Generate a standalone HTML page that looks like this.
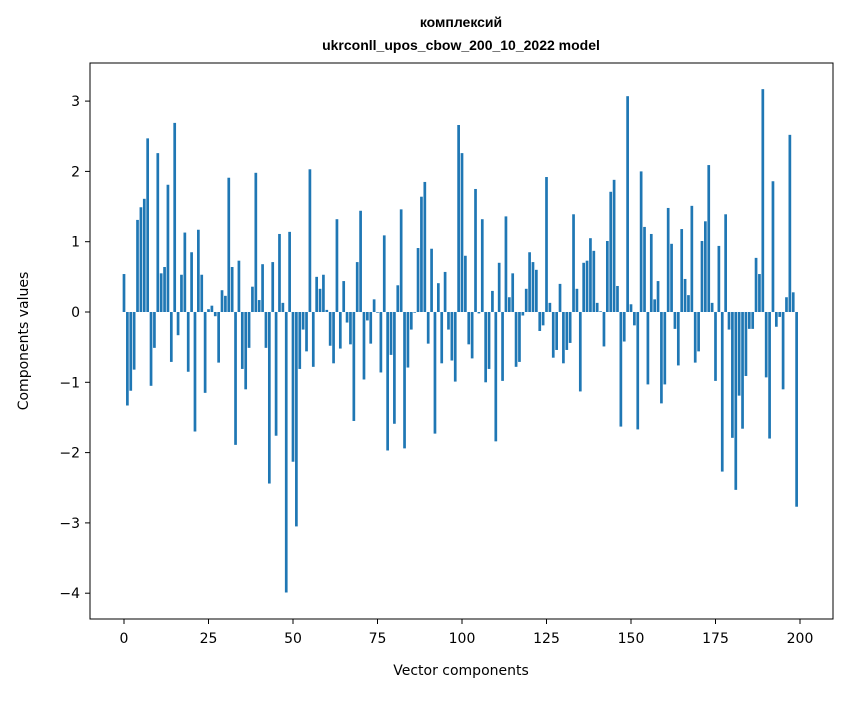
<!DOCTYPE html>
<html><head><meta charset="utf-8"><style>
body{margin:0;background:#fff;font-family:"Liberation Sans","DejaVu Sans",sans-serif}
svg text{font-family:"DejaVu Sans","Liberation Sans",sans-serif}
svg text.ttl{font-family:"Liberation Sans","DejaVu Sans",sans-serif}
</style></head><body>
<svg id="chart" width="847" height="696" xmlns="http://www.w3.org/2000/svg">
<rect x="0" y="0" width="847" height="696" fill="#fff"/>
<text class="ttl" x="461" y="27" text-anchor="middle" font-size="14" font-weight="bold">комплексий</text>
<text class="ttl" x="461" y="50" text-anchor="middle" font-size="14" font-weight="bold">ukrconll_upos_cbow_200_10_2022 model</text>
<g id="bars"></g>
<g id="axes"></g>
<rect x="90" y="63" width="743" height="556" fill="none" stroke="#000" stroke-width="1"/>
<text x="461" y="675" text-anchor="middle" font-size="14">Vector components</text>
<text transform="translate(28,341) rotate(-90)" text-anchor="middle" font-size="14">Components values</text>
</svg>
<script>
const values = [0.54,-1.33,-1.12,-0.82,1.31,1.49,1.61,2.47,-1.05,-0.51,
2.26,0.55,0.64,1.81,-0.71,2.69,-0.33,0.53,1.13,-0.85,
0.85,-1.70,1.17,0.53,-1.15,0.04,0.09,-0.06,-0.72,0.31,
0.23,1.91,0.64,-1.89,0.73,-0.81,-1.10,-0.51,0.36,1.98,
0.17,0.68,-0.51,-2.44,0.71,-1.76,1.11,0.13,-3.99,1.14,
-2.13,-3.05,-0.81,-0.25,-0.56,2.03,-0.78,0.50,0.33,0.53,
0.03,-0.48,-0.73,1.32,-0.52,0.44,-0.15,-0.46,-1.55,0.71,
1.44,-0.96,-0.12,-0.45,0.18,-0.01,-0.86,1.09,-1.97,-0.61,
-1.59,0.38,1.46,-1.94,-0.79,-0.25,-0.01,0.91,1.64,1.85,
-0.45,0.90,-1.73,0.41,-0.73,0.57,-0.25,-0.69,-0.99,2.66,
2.26,0.80,-0.46,-0.66,1.75,-0.02,1.32,-1.00,-0.81,0.30,
-1.84,0.70,-0.98,1.36,0.21,0.55,-0.78,-0.71,-0.05,0.33,
0.85,0.71,0.60,-0.27,-0.19,1.92,0.13,-0.65,-0.54,0.40,
-0.73,-0.54,-0.44,1.39,0.33,-1.13,0.70,0.73,1.05,0.87,
0.13,0.01,-0.49,1.01,1.71,1.88,0.37,-1.63,-0.42,3.07,
0.11,-0.19,-1.67,2.00,1.21,-1.03,1.11,0.18,0.44,-1.30,
-1.03,1.48,0.97,-0.24,-0.76,1.18,0.47,0.24,1.51,-0.72,
-0.56,1.01,1.29,2.09,0.13,-0.98,0.94,-2.27,1.39,-0.25,
-1.79,-2.53,-1.19,-1.66,-0.91,-0.24,-0.24,0.77,0.54,3.17,
-0.93,-1.80,1.86,-0.21,-0.07,-1.10,0.21,2.52,0.28,-2.77];
const xTicks = [0,25,50,75,100,125,150,175,200];
const yTicks = [-4,-3,-2,-1,0,1,2,3];
const NS="http://www.w3.org/2000/svg";
function xs(v){return 124+v*3.38;}
function ys(v){return 312-v*70.3;}
const bars=document.getElementById('bars');
values.forEach((v,i)=>{
  const r=document.createElementNS(NS,'rect');
  const y0=ys(0), y1=ys(v);
  r.setAttribute('x',xs(i-0.4));
  r.setAttribute('width',3.38*0.8);
  r.setAttribute('y',Math.min(y0,y1));
  r.setAttribute('height',Math.abs(y1-y0));
  r.setAttribute('fill','#1f77b4');
  
  
  bars.appendChild(r);
});
const axes=document.getElementById('axes');
xTicks.forEach(t=>{
  const l=document.createElementNS(NS,'line');
  l.setAttribute('x1',xs(t));l.setAttribute('x2',xs(t));
  l.setAttribute('y1',619);l.setAttribute('y2',624);
  l.setAttribute('stroke','#000');
  
  
  axes.appendChild(l);
  const tx=document.createElementNS(NS,'text');
  tx.setAttribute('x',xs(t));tx.setAttribute('y',643);
  tx.setAttribute('text-anchor','middle');tx.setAttribute('font-size','14');
  tx.textContent=t;
  
  
  axes.appendChild(tx);
});
yTicks.forEach(t=>{
  const l=document.createElementNS(NS,'line');
  l.setAttribute('x1',85);l.setAttribute('x2',90);
  l.setAttribute('y1',ys(t));l.setAttribute('y2',ys(t));
  l.setAttribute('stroke','#000');
  
  
  axes.appendChild(l);
  const tx=document.createElementNS(NS,'text');
  tx.setAttribute('x',80);tx.setAttribute('y',ys(t)+5);
  tx.setAttribute('text-anchor','end');tx.setAttribute('font-size','14');
  tx.textContent=(t<0?'\u2212':'')+Math.abs(t);
  
  
  axes.appendChild(tx);
});
</script>
</body></html>
